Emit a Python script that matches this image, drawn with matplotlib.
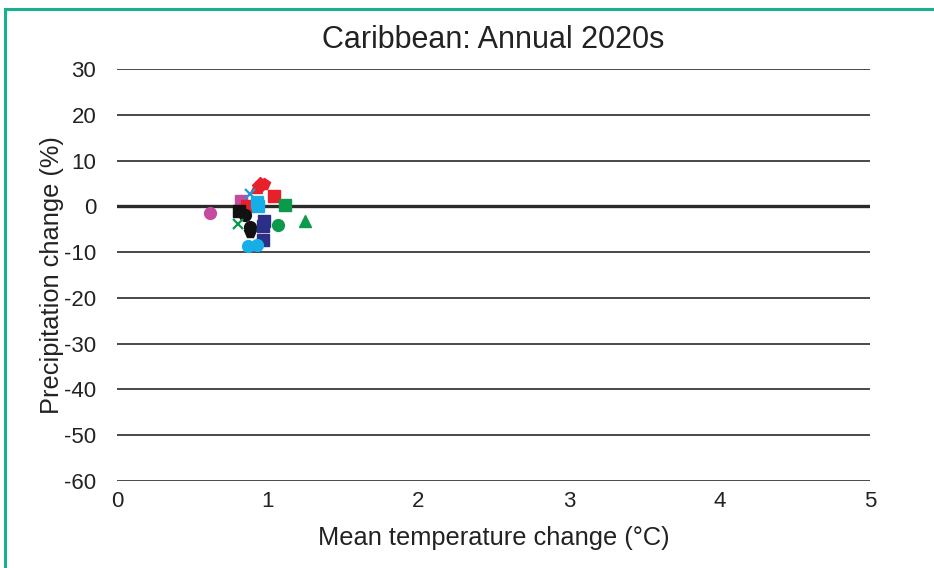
import matplotlib.pyplot as plt
from matplotlib.lines import Line2D

plt.rcParams['font.family'] = ['Liberation Sans', 'DejaVu Sans']
plt.rcParams['axes.unicode_minus'] = False

# model results: temperature change (deg C), precipitation change (%)
temp = [0.62, 0.82, 0.865, 0.92, 0.95, 0.975, 0.88, 1.04, 0.93, 0.935, 1.115,
        0.81, 0.85, 0.80, 0.88, 0.885, 0.976, 0.967, 1.07, 1.25, 0.97, 0.87, 0.93]
precip = [-1.4, 1.2, 0.1, 4.2, 4.6, 4.8, 2.8, 2.3, 0.9, 0.0, 0.2,
          -1.1, -2.0, -3.9, -4.6, -5.5, -3.2, -4.2, -4.0, -3.1, -7.4, -8.7, -8.5]
colors = ['#c54b9f', '#c54b9f', '#e8202a', '#e8202a', '#e8202a', '#e8202a', '#1c9ad6',
          '#e8202a', '#17aee8', '#17aee8', '#0a9a4a', '#111111', '#111111', '#0a9a4a',
          '#111111', '#111111', '#2b2f86', '#2b2f86', '#0a9a4a', '#0a9a4a', '#2b2f86',
          '#17aee8', '#17aee8']
markers = ['o', 's', 's', '^', 'D', 'p', 'x', 's', 's', 's', 's',
           's', 'o', 'x', 'o', 'p', 's', 's', 'o', '^', 's', 'o', 'o']

yticks = [30, 20, 10, 0, -10, -20, -30, -40, -50, -60]
xticks = [0, 1, 2, 3, 4, 5]

fig = plt.figure(figsize=(9.34, 5.68), dpi=100)
ax = fig.add_axes([0.1253, 0.1532, 0.8062, 0.7253])

for y in yticks:
    ax.axhline(y, color='#2a2a2a', lw=2.4 if y == 0 else 1.2, zorder=1)

for x, y, c, m in zip(temp, precip, colors, markers):
    if m == 'x':
        ax.plot(x, y, marker=m, color=c, ms=7, mew=1.6, ls='none', zorder=3)
    else:
        ax.plot(x, y, marker=m, color=c, ms=8.5, ls='none', zorder=3)

ax.set_xlim(0, 5)
ax.set_ylim(-60, 30)
ax.set_xticks(xticks)
ax.set_yticks(yticks)
ax.tick_params(length=0, labelsize=16, colors='#222222')
ax.tick_params(axis='y', pad=15)
ax.tick_params(axis='x', pad=7)
for s in ax.spines.values():
    s.set_visible(False)

ax.set_title('Caribbean: Annual 2020s', fontsize=22, color='#222222', pad=15)
ax.set_xlabel('Mean temperature change (°C)', fontsize=18.3, color='#222222', labelpad=10)
ax.set_ylabel('Precipitation change (%)', fontsize=18.3, color='#222222', labelpad=0)

# teal frame at top and left
teal = '#1aaf8e'
fig.add_artist(Line2D([5 / 934, 1.0], [1 - 9 / 568, 1 - 9 / 568], color=teal, lw=2.2))
fig.add_artist(Line2D([5 / 934, 5 / 934], [0, 1 - 9 / 568], color=teal, lw=2.2))

fig.savefig('out.png', dpi=100)
